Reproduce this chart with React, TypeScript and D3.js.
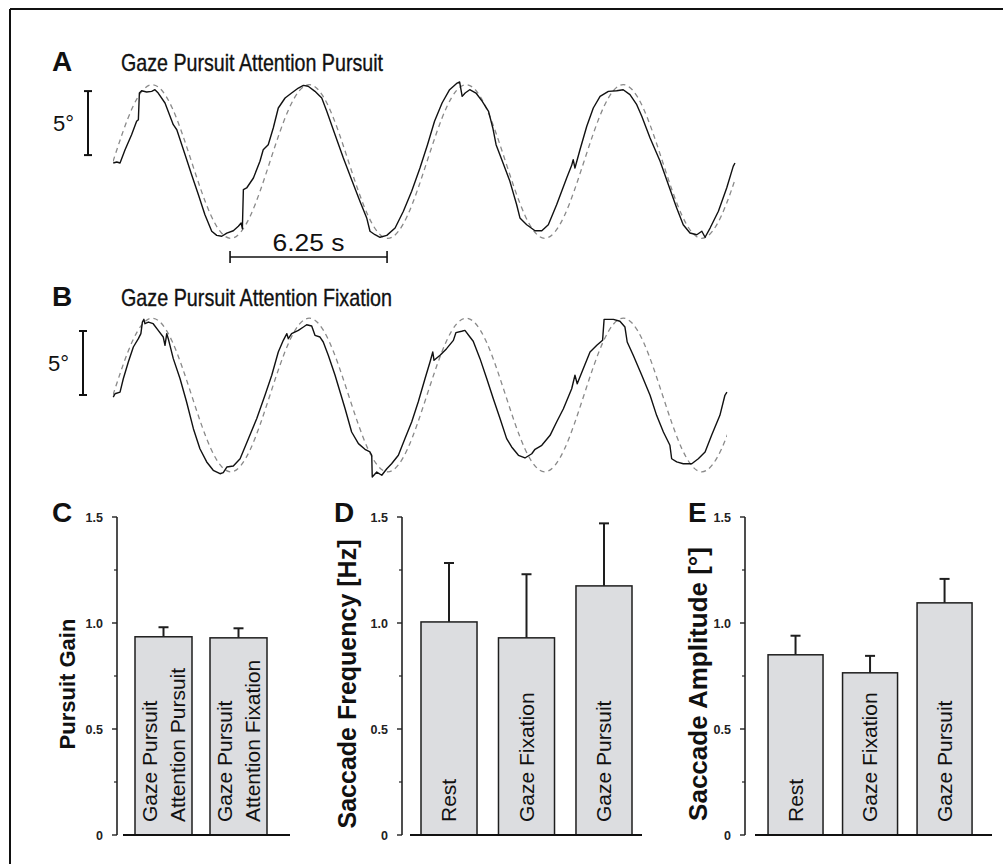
import React from "react";
import * as d3 from "d3";

const FONT = "'Liberation Sans', Arial, Helvetica, sans-serif";

// Eye position traces: [time (s), horizontal eye position (deg)]
const GAZE_A: [number, number][] = [
  [0.01, -0.12], [0.15, -0.04], [0.28, -0.12], [0.48, 0.92], [0.74, 2.09], [0.94, 3.14],
  [1.01, 3.27], [1.05, 5.35], [1.14, 5.53], [1.34, 5.43], [1.54, 5.48], [1.67, 5.61],
  [1.8, 5.35], [2.07, 4.57], [2.4, 2.88], [2.54, 2.48], [2.87, 0.53], [3.13, -1.03],
  [3.4, -2.59], [3.66, -4.16], [3.93, -5.45], [4.13, -5.77], [4.33, -5.84], [4.53, -5.59],
  [4.79, -5.41], [4.99, -5.06], [5.1, -4.8], [5.15, -5.25], [5.19, -2.2], [5.32, -2.07],
  [5.59, -1.29], [5.85, 0.02], [5.98, 0.92], [6.18, 1.31], [6.38, 2.62], [6.58, 4.18],
  [6.85, 4.96], [7.11, 5.35], [7.38, 5.74], [7.58, 5.95], [7.77, 5.88], [8.04, 5.48],
  [8.31, 4.96], [8.51, 3.92], [8.84, 2.09], [9.17, 0.27], [9.5, -1.42], [9.83, -3.11],
  [10.1, -4.41], [10.23, -5.45], [10.43, -5.72], [10.63, -5.92], [10.9, -5.77], [11.23, -5.2],
  [11.56, -3.89], [11.89, -2.33], [12.22, -0.51], [12.52, 1.31], [12.8, 3.14], [13.1, 4.57],
  [13.4, 5.61], [13.7, 6.13], [13.8, 6.21], [13.9, 5.09], [14.02, 5.35], [14.2, 5.61],
  [14.45, 5.35], [14.7, 4.7], [14.95, 3.92], [15.12, 2.62], [15.25, 1.31], [15.5, 0.02],
  [15.8, -1.55], [16.07, -3.38], [16.2, -4.41], [16.47, -4.94], [16.8, -5.41], [17.07, -5.41],
  [17.33, -4.94], [17.66, -3.38], [18.06, -1.29], [18.26, -0.3], [18.32, 0.14], [18.39, -0.51],
  [18.59, 0.92], [18.86, 2.75], [19.12, 4.18], [19.39, 5.09], [19.72, 5.48], [20.05, 5.53],
  [20.31, 5.61], [20.58, 5.22], [20.85, 4.44], [21.05, 3.53], [21.38, 1.84], [21.78, 0.02],
  [22.11, -1.81], [22.44, -3.63], [22.7, -4.94], [22.97, -5.59], [23.24, -5.72], [23.44, -5.45],
  [23.57, -5.92], [23.77, -5.2], [24.1, -3.89], [24.43, -2.07], [24.69, -0.38], [24.76, -0.12],
];

const GAZE_B: [number, number][] = [
  [0.01, -0.16], [0.08, 0.1], [0.28, 0.23], [0.41, 1.27], [0.61, 2.58], [0.81, 3.75],
  [1.01, 4.4], [1.11, 4.79], [1.17, 5.7], [1.23, 5.91], [1.27, 5.57], [1.41, 5.7],
  [1.6, 5.57], [1.8, 5.05], [2.0, 4.53], [2.07, 3.88], [2.14, 4.79], [2.2, 4.4],
  [2.4, 2.84], [2.67, 1.27], [2.93, -0.55], [3.2, -2.63], [3.46, -4.2], [3.73, -5.23],
  [3.99, -5.88], [4.26, -6.15], [4.39, -6.07], [4.53, -5.63], [4.79, -5.55], [5.06, -4.98],
  [5.39, -3.41], [5.72, -1.85], [6.05, -0.02], [6.32, 1.54], [6.58, 3.36], [6.78, 4.27],
  [6.92, 4.79], [6.98, 4.4], [7.11, 4.79], [7.38, 5.05], [7.58, 5.31], [7.71, 5.49],
  [7.91, 5.39], [8.04, 4.66], [8.24, 4.53], [8.37, 4.14], [8.57, 3.1], [8.84, 1.54],
  [9.04, 0.23], [9.24, -1.07], [9.5, -2.89], [9.77, -3.8], [10.03, -4.24], [10.23, -4.45],
  [10.3, -4.71], [10.32, -6.41], [10.5, -6.02], [10.7, -6.27], [10.9, -5.76], [11.09, -5.37],
  [11.36, -4.71], [11.62, -3.41], [11.89, -2.11], [12.15, -0.55], [12.42, 1.27], [12.62, 2.58],
  [12.73, 3.36], [12.78, 2.71], [13.02, 3.1], [13.28, 3.62], [13.55, 4.27], [13.65, 4.87],
  [13.88, 4.98], [14.01, 5.05], [14.21, 4.53], [14.34, 4.2], [14.61, 2.84], [14.88, 1.27],
  [15.14, -0.29], [15.41, -1.85], [15.67, -3.41], [15.87, -4.06], [16.14, -4.71], [16.4, -4.92],
  [16.67, -4.59], [16.8, -4.24], [17.07, -3.93], [17.4, -3.15], [17.66, -2.11], [17.93, -1.07],
  [18.26, 0.49], [18.39, 1.54], [18.48, 0.88], [18.72, 2.05], [18.99, 3.36], [19.26, 3.88],
  [19.49, 4.27], [19.55, 5.91], [19.92, 5.91], [20.18, 5.76], [20.38, 5.31], [20.47, 4.14],
  [20.71, 3.1], [21.05, 1.54], [21.38, -0.02], [21.64, -1.59], [21.91, -2.89], [22.17, -3.93],
  [22.24, -4.98], [22.44, -5.23], [22.7, -5.37], [23.04, -5.37], [23.3, -4.98], [23.57, -4.45],
  [23.83, -3.15], [24.16, -1.59], [24.36, -0.02], [24.44, 0.23],
];

// Target position (deg), sampled every eighth of a 6.25 s cycle
const TARGET_STEP = 0.78125;
const TARGET_A = [
  0, 4.24, 6, 4.24, 0, -4.24, -6, -4.24,
  0, 4.24, 6, 4.24, 0, -4.24, -6, -4.24,
  0, 4.24, 6, 4.24, 0, -4.24, -6, -4.24,
  0, 4.24, 6, 4.24, 0, -4.24, -6, -4.24, 0,
];
const TARGET_B = [
  0, 4.24, 6, 4.24, 0, -4.24, -6, -4.24,
  0, 4.24, 6, 4.24, 0, -4.24, -6, -4.24,
  0, 4.24, 6, 4.24, 0, -4.24, -6, -4.24,
  0, 4.24, 6, 4.24, 0, -4.24, -6, -4.24, 0,
];

// Bar charts
const GAIN_LABELS = [
  ["Gaze Pursuit", "Attention Pursuit"],
  ["Gaze Pursuit", "Attention Fixation"],
];
const GAIN_MEAN = [0.935, 0.93];
const GAIN_SD = [0.045, 0.045];

const SACC_LABELS = ["Rest", "Gaze Fixation", "Gaze Pursuit"];
const FREQ_MEAN = [1.005, 0.93, 1.175];
const FREQ_SD = [0.278, 0.3, 0.295];
const AMP_MEAN = [0.85, 0.765, 1.095];
const AMP_SD = [0.09, 0.08, 0.113];

const Y_TICKS = [0, 0.5, 1.0, 1.5];
const Y_TICK_LABELS = ["0", "0.5", "1.0", "1.5"];
const Y_MINOR = [0.25, 0.75, 1.25];

const x = d3.scaleLinear().domain([0, 25]).range([113, 741]);

type TraceProps = {
  id: string;
  letter: string;
  title: string;
  titleWidth: number;
  titleY: number;
  cy: number;
  gaze: [number, number][];
  target: number[];
  degBar: [number, number];
  degBarX: number;
  timeBar?: [number, number];
  timeBarY?: number;
};

function TracePanel(p: TraceProps) {
  const y = d3.scaleLinear().domain([-6, 6]).range([p.cy + 76.8, p.cy - 76.8]);
  const gazeLine = d3
    .line<[number, number]>()
    .x((d) => x(d[0]))
    .y((d) => y(d[1]));
  const targetPts: [number, number][] = p.target.map((v, i) => [i * TARGET_STEP, v]);
  const targetLine = d3
    .line<[number, number]>()
    .x((d) => x(d[0]))
    .y((d) => y(d[1]))
    .curve(d3.curveNatural);
  const tEnd = p.gaze[p.gaze.length - 1][0];
  const b0 = y(p.degBar[0]);
  const b1 = y(p.degBar[1]);
  return (
    <g>
      <defs>
        <clipPath id={p.id}>
          <rect x={x(0)} y={p.cy - 120} width={x(tEnd) - x(0)} height={240} />
        </clipPath>
      </defs>
      <text x={52} y={p.titleY} fontFamily={FONT} fontWeight={700} fontSize={28} fill="#111">
        {p.letter}
      </text>
      <text
        x={121}
        y={p.titleY}
        fontFamily={FONT}
        fontSize={24}
        fill="#111"
        stroke="#111"
        strokeWidth={0.35}
        textLength={p.titleWidth}
        lengthAdjust="spacingAndGlyphs"
      >
        {p.title}
      </text>
      {/* 5 degree scale bar */}
      <g stroke="#111" strokeWidth={2}>
        <line x1={p.degBarX} x2={p.degBarX} y1={b0} y2={b1} />
        <line x1={p.degBarX - 4} x2={p.degBarX + 4} y1={b0} y2={b0} />
        <line x1={p.degBarX - 4} x2={p.degBarX + 4} y1={b1} y2={b1} />
      </g>
      <text
        x={p.degBarX - 14}
        y={(b0 + b1) / 2 + 8}
        textAnchor="end"
        fontFamily={FONT}
        fontSize={22}
        fill="#111"
      >
        5°
      </text>
      <path
        d={targetLine(targetPts) || ""}
        clipPath={`url(#${p.id})`}
        fill="none"
        stroke="#8a8a8a"
        strokeWidth={1.3}
        strokeDasharray="5,4"
      />
      <path d={gazeLine(p.gaze) || ""} fill="none" stroke="#111" strokeWidth={1.4} strokeLinejoin="round" />
      {p.timeBar && p.timeBarY !== undefined && (
        <g>
          <g stroke="#111" strokeWidth={1.6}>
            <line x1={x(p.timeBar[0])} x2={x(p.timeBar[1])} y1={p.timeBarY} y2={p.timeBarY} />
            <line x1={x(p.timeBar[0])} x2={x(p.timeBar[0])} y1={p.timeBarY - 6} y2={p.timeBarY + 6} />
            <line x1={x(p.timeBar[1])} x2={x(p.timeBar[1])} y1={p.timeBarY - 6} y2={p.timeBarY + 6} />
          </g>
          <text
            x={(x(p.timeBar[0]) + x(p.timeBar[1])) / 2}
            y={p.timeBarY - 6}
            textAnchor="middle"
            fontFamily={FONT}
            fontSize={24}
            fill="#111"
            textLength={72}
            lengthAdjust="spacingAndGlyphs"
          >
            6.25 s
          </text>
        </g>
      )}
    </g>
  );
}

const yBar = d3.scaleLinear().domain([0, 1.5]).range([835, 517]);

type BarProps = {
  letter: string;
  letterX: number;
  title: string;
  titleX: number;
  titleSize: number;
  axisX: number;
  band: [number, number];
  padInner: number;
  baseline: [number, number];
  labels: string[][];
  mean: number[];
  sd: number[];
};

function BarPanel(p: BarProps) {
  const keys = p.mean.map((_, i) => String(i));
  const xb = d3
    .scaleBand<string>()
    .domain(keys)
    .range(p.band)
    .paddingInner(p.padInner)
    .paddingOuter(0.12);
  const bw = xb.bandwidth();
  return (
    <g>
      <text x={p.letterX} y={522} fontFamily={FONT} fontWeight={700} fontSize={28} fill="#111">
        {p.letter}
      </text>
      <text
        transform={`translate(${p.titleX},${(yBar(0) + yBar(1.5)) / 2 + 8}) rotate(-90)`}
        textAnchor="middle"
        fontFamily={FONT}
        fontWeight={700}
        fontSize={p.titleSize}
        fill="#111"
      >
        {p.title}
      </text>
      {/* y axis */}
      <line x1={p.axisX} x2={p.axisX} y1={yBar(0)} y2={yBar(1.5)} stroke="#222" strokeWidth={1.6} />
      {Y_TICKS.map((t, i) => (
        <g key={t}>
          <line x1={p.axisX - 5} x2={p.axisX} y1={yBar(t)} y2={yBar(t)} stroke="#222" strokeWidth={1.4} />
          <text
            x={p.axisX - 14}
            y={yBar(t) + 4.5}
            textAnchor="end"
            fontFamily={FONT}
            fontWeight={700}
            fontSize={12.5}
            fill="#222"
          >
            {Y_TICK_LABELS[i]}
          </text>
        </g>
      ))}
      {Y_MINOR.map((t) => (
        <line key={t} x1={p.axisX - 3} x2={p.axisX} y1={yBar(t)} y2={yBar(t)} stroke="#222" strokeWidth={1.2} />
      ))}
      {/* bars */}
      {p.mean.map((m, i) => {
        const x0 = xb(String(i)) as number;
        const cx = x0 + bw / 2;
        const top = yBar(m);
        const err = yBar(m + p.sd[i]);
        const lines = p.labels[i];
        const lineGap = 28;
        return (
          <g key={i}>
            <g stroke="#1e1e1e" strokeWidth={2}>
              <line x1={cx} x2={cx} y1={top} y2={err} />
              <line x1={cx - 5} x2={cx + 5} y1={err} y2={err} />
            </g>
            <rect x={x0} y={top} width={bw} height={yBar(0) - top} fill="#dcdde0" stroke="#1e1e1e" strokeWidth={1.5} />
            {lines.map((s, j) => (
              <text
                key={j}
                transform={`translate(${cx + 7 + (j - (lines.length - 1) / 2) * lineGap},822) rotate(-90)`}
                fontFamily={FONT}
                fontSize={21}
                fill="#111"
              >
                {s}
              </text>
            ))}
          </g>
        );
      })}
      <line x1={p.baseline[0]} x2={p.baseline[1]} y1={yBar(0)} y2={yBar(0)} stroke="#111" strokeWidth={2.2} />
    </g>
  );
}

export default function App() {
  return (
    <svg
      width={1003}
      height={864}
      style={{ position: "absolute", left: 0, top: 0, display: "block", background: "#fff" }}
    >
      <rect x={0} y={0} width={1003} height={864} fill="#fff" />
      {/* frame */}
      <g stroke="#111" strokeWidth={2}>
        <line x1={10} x2={1003} y1={9} y2={9} />
        <line x1={10} x2={10} y1={9} y2={864} />
      </g>
      <TracePanel
        id="clipA"
        letter="A"
        title="Gaze Pursuit Attention Pursuit"
        titleWidth={262}
        titleY={71}
        cy={161.5}
        gaze={GAZE_A}
        target={TARGET_A}
        degBar={[0.5, 5.5]}
        degBarX={88}
        timeBar={[4.66, 10.91]}
        timeBarY={257}
      />
      <TracePanel
        id="clipB"
        letter="B"
        title="Gaze Pursuit Attention Fixation"
        titleWidth={271}
        titleY={306}
        cy={395}
        gaze={GAZE_B}
        target={TARGET_B}
        degBar={[0, 5]}
        degBarX={83}
      />
      <BarPanel
        letter="C"
        letterX={52}
        title="Pursuit Gain"
        titleX={75}
        titleSize={22}
        axisX={117}
        band={[126, 276]}
        padInner={0.24}
        baseline={[123, 290]}
        labels={GAIN_LABELS}
        mean={GAIN_MEAN}
        sd={GAIN_SD}
      />
      <BarPanel
        letter="D"
        letterX={334}
        title="Saccade Frequency [Hz]"
        titleX={356}
        titleSize={25}
        axisX={402}
        band={[411.7, 641.3]}
        padInner={0.277}
        baseline={[410, 642]}
        labels={SACC_LABELS.map((s) => [s])}
        mean={FREQ_MEAN}
        sd={FREQ_SD}
      />
      <BarPanel
        letter="E"
        letterX={688}
        title="Saccade Amplitude [°]"
        titleX={707}
        titleSize={26}
        axisX={745}
        band={[759.1, 981]}
        padInner={0.262}
        baseline={[755, 992]}
        labels={SACC_LABELS.map((s) => [s])}
        mean={AMP_MEAN}
        sd={AMP_SD}
      />
    </svg>
  );
}
